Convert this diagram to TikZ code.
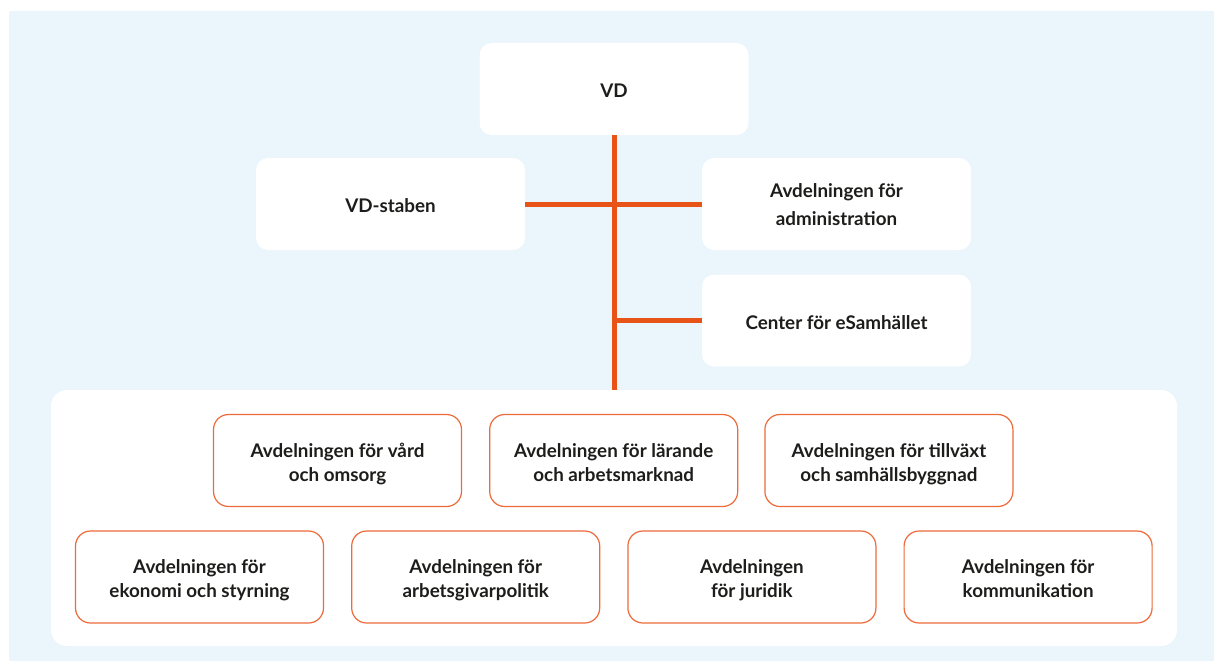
\documentclass[tikz,border=0pt]{standalone}
\usepackage{fontspec}
\setmainfont{Lato}
\usetikzlibrary{positioning}
\definecolor{bgblue}{HTML}{EAF5FC}
\definecolor{lineor}{HTML}{E85417}
\definecolor{boxor}{HTML}{EE6A3A}
\definecolor{txt}{HTML}{1D1D1B}

\begin{document}
\begin{tikzpicture}[x=1pt, y=-1pt,
    top/.style = {fill=white, rounded corners=12pt, minimum width=269pt, minimum height=92pt,
        align=center, font=\fontsize{18.8}{24}\selectfont\bfseries, text=txt,
        inner sep=0pt, execute at begin node={\rule[-6pt]{0pt}{29pt}}},
    two/.style = {execute at begin node={\rule[-6pt]{0pt}{53pt}}},
    unit/.style = {draw=boxor, line width=1.2pt, fill=white, rounded corners=15pt,
        minimum width=248pt, minimum height=92pt, align=center,
        font=\fontsize{18.8}{24}\selectfont\bfseries, text=txt,
        inner sep=0pt, two},
    panel/.style = {fill=white, rounded corners=16pt, minimum width=1126pt, minimum height=256pt},
    link/.style = {draw=lineor, line width=5pt}]
    \useasboundingbox (0,0) rectangle (1214,661);
    \fill[bgblue] (9,11) rectangle (1214,661);

    \node[top] (vd) at (614,89) {VD};
    \node[top] (stab) at (390.5,204) {VD-staben};
    \node[top, font=\fontsize{18.8}{27.5}\selectfont\bfseries,
        execute at begin node={\rule[-6pt]{0pt}{54pt}}] (admin) at (836.5,204) {Avdelningen för\\administration};
    \node[top] (esam) at (836.5,320.5) {Center för eSamhället};

    \node[panel] (panel) at (614,518) {};

    \node[unit] (vard) at (337.5,460.5) {Avdelningen för vård\\och omsorg};
    \node[unit] (larande) [right=27pt of vard] {Avdelningen för lärande\\och arbetsmarknad};
    \node[unit] (tillvaxt) [right=26pt of larande] {Avdelningen för tillväxt\\och samhällsbyggnad};

    \node[unit] (ekonomi) at (199.5,577) {Avdelningen för\\ekonomi och styrning};
    \node[unit] (agpol) [right=27pt of ekonomi] {Avdelningen för\\arbetsgivarpolitik};
    \node[unit] (juridik) [right=27pt of agpol] {Avdelningen\\för juridik};
    \node[unit] (komm) [right=27pt of juridik] {Avdelningen för\\kommunikation};

    \draw[link] (vd.south) -- (vd.south |- panel.north);
    \draw[link] (stab.east) -- (admin.west);
    \draw[link] (esam.west -| vd.south) -- (esam.west);
\end{tikzpicture}
\end{document}
